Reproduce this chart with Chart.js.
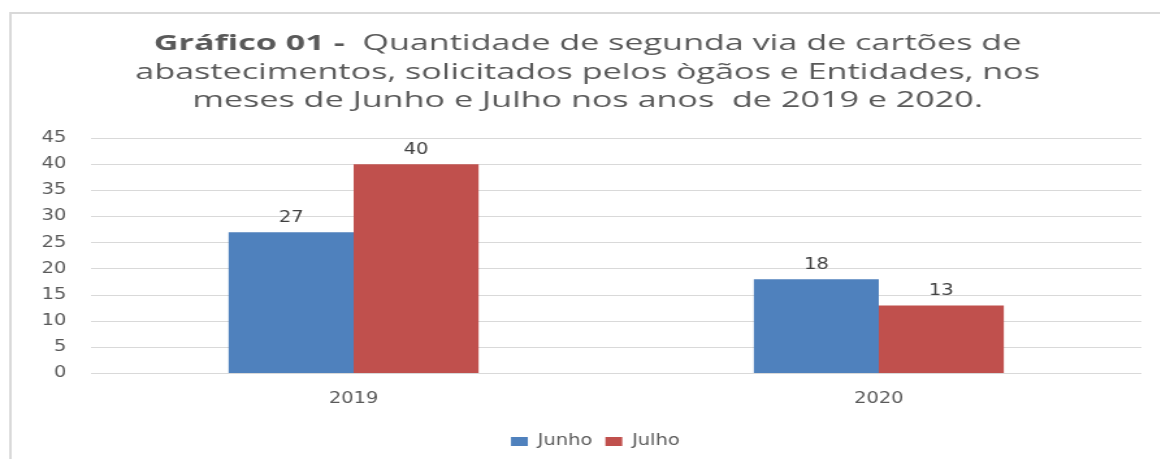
<!DOCTYPE html>
<html>
<head>
<meta charset="utf-8">
<script src="https://cdn.jsdelivr.net/npm/chart.js@4"></script>
<style>
  html, body { margin: 0; padding: 0; background: #fff; overflow: hidden; }
  /* o gráfico original está esticado na horizontal */
  #wrap { width: 892px; height: 459px; transform: scaleX(1.3); transform-origin: 0 0; }
</style>
</head>
<body>
<div id="wrap"><canvas id="grafico"></canvas></div>
<script>
// Dados do gráfico
const anos = ['2019', '2020'];
const junho = [27, 18];
const julho = [40, 13];
const tituloLinhas = [
  ['Gráfico 01 -', '  Quantidade de segunda via de cartões de'],
  ['', 'abastecimentos, solicitados pelos ògãos e Entidades, nos'],
  ['', 'meses de Junho e Julho nos anos  de 2019 e 2020.']
];

const fonteTxt = "'DejaVu Sans', Verdana, sans-serif";

// Moldura e título desenhados no canvas
const moldura = {
  id: 'moldura',
  afterLayout(chart) {
    // legenda um pouco à direita, como no original
    chart.legend.left += 15;
    chart.legend.right += 15;
  },
  beforeDraw(chart) {
    const c = chart.ctx;
    c.save();
    c.strokeStyle = '#d9d9d9';
    c.lineWidth = 2;
    c.beginPath();
    c.moveTo(8, chart.height);
    c.lineTo(8, 13);
    c.lineTo(chart.width, 13);
    c.stroke();

    c.fillStyle = '#595959';
    c.textBaseline = 'alphabetic';
    const base = [50, 78.5, 107];
    const centro = 452;
    const esticar = 1.25; // letras do título mais largas
    tituloLinhas.forEach((l, i) => {
      c.font = "bold 21px 'Open Sans'";
      const w1 = l[0] ? c.measureText(l[0]).width : 0;
      c.font = "21px 'Open Sans'";
      const w2 = c.measureText(l[1]).width;
      c.save();
      c.translate(centro, base[i]);
      c.scale(esticar, 1);
      let x = -(w1 + w2) / 2;
      if (l[0]) {
        c.font = "bold 21px 'Open Sans'";
        c.fillText(l[0], x, 0);
        x += w1;
      }
      c.font = "21px 'Open Sans'";
      c.fillText(l[1], x, 0);
      c.restore();
    });
    c.restore();
  }
};

// Valores acima das barras
const rotulos = {
  id: 'rotulos',
  afterDatasetsDraw(chart) {
    const c = chart.ctx;
    c.save();
    c.font = '15px ' + fonteTxt;
    c.fillStyle = '#404040';
    c.textAlign = 'center';
    c.textBaseline = 'alphabetic';
    chart.data.datasets.forEach((ds, i) => {
      chart.getDatasetMeta(i).data.forEach((bar, j) => {
        c.fillText(String(ds.data[j]), bar.x, bar.y - 10.5);
      });
    });
    c.restore();
  }
};

const ctx = document.getElementById('grafico').getContext('2d');
new Chart(ctx, {
  type: 'bar',
  data: {
    labels: anos,
    datasets: [
      { label: 'Junho', data: junho, backgroundColor: '#4f81bd' },
      { label: 'Julho', data: julho, backgroundColor: '#c0504d' }
    ]
  },
  options: {
    responsive: true,
    maintainAspectRatio: false,
    animation: false,
    layout: { padding: { top: 138, left: 8, right: 14, bottom: 0 } },
    datasets: { bar: { categoryPercentage: 0.476, barPercentage: 1.0 } },
    plugins: {
      title: { display: false },
      tooltip: { enabled: false },
      legend: {
        position: 'bottom',
        labels: {
          boxWidth: 13,
          boxHeight: 9,
          padding: 10,
          color: '#595959',
          font: { family: fonteTxt, size: 15 }
        }
      }
    },
    scales: {
      x: {
        grid: { display: false, drawTicks: false },
        border: { display: false },
        ticks: { color: '#595959', padding: 17, font: { family: fonteTxt, size: 15 } },
        afterFit(s) { s.height = 50.5; }
      },
      y: {
        min: 0,
        max: 45,
        grid: { color: '#d9d9d9', drawTicks: false },
        border: { display: false },
        ticks: { stepSize: 5, color: '#595959', padding: 19, font: { family: fonteTxt, size: 15 } },
        afterFit(s) { s.width = 62; }
      }
    }
  },
  plugins: [moldura, rotulos]
});
</script>
</body>
</html>
